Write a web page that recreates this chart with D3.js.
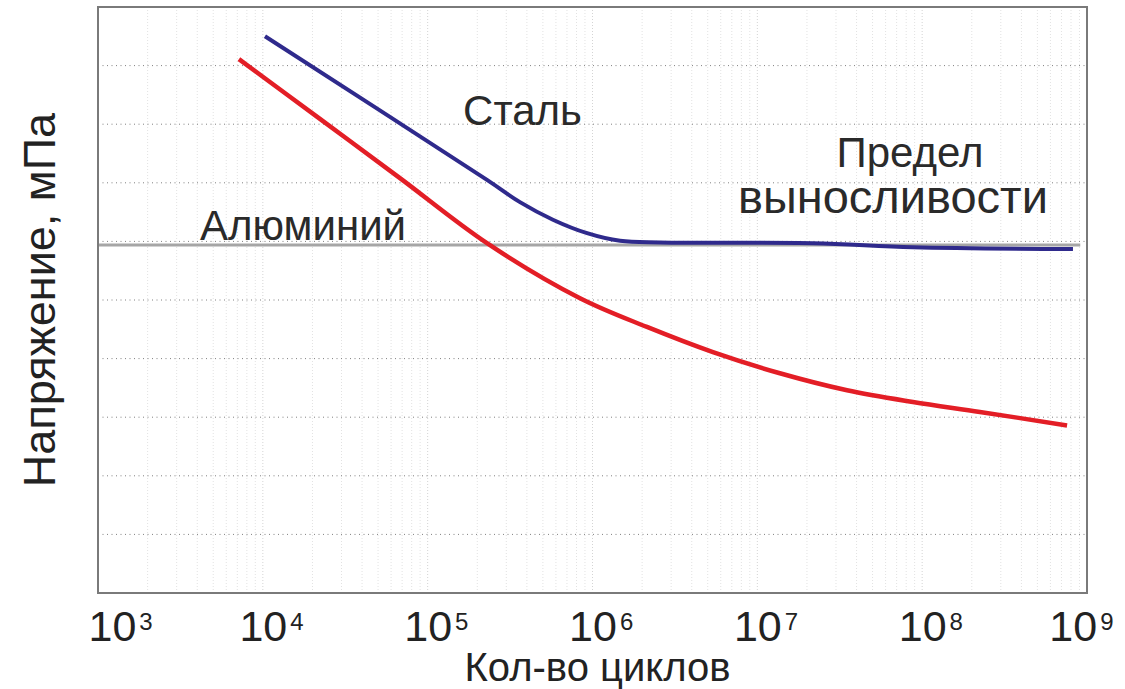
<!DOCTYPE html>
<html lang="ru">
<head>
<meta charset="utf-8">
<title>Кривые усталости</title>
<script src="https://cdn.jsdelivr.net/npm/d3@7/dist/d3.min.js"></script>
<style>
  html, body { margin: 0; padding: 0; background: #fff; }
  svg { display: block; font-family: "Liberation Sans", Arial, sans-serif; }
</style>
</head>
<body>
<div id="chart"></div>
<script>
/* =====================================================================
   S-N curves (Wöhler): steel levels off at the fatigue limit,
   aluminium keeps dropping with the number of cycles.
   ===================================================================== */
(function () {
  "use strict";

  /* ---- data (cycles, stress in grid units) ---- */
  const steelCycles = [1.03e4, 2.29e5, 3.63e5, 5.75e5, 9.27e5, 1.47e6, 2.57e6, 2.18e7, 8.79e7, 8.22e8];
  const steelStress = [9.50, 7.05, 6.67, 6.37, 6.14, 6.01, 5.98, 5.97, 5.90, 5.87];

  const aluCycles = [7.16e3, 2.22e4, 6.79e4, 2.29e5, 8.40e5, 2.14e6, 5.38e6, 1.37e7, 3.50e7, 8.79e7, 2.24e8, 7.57e8];
  const aluStress = [9.11, 8.09, 7.08, 5.97, 5.03, 4.54, 4.11, 3.75, 3.46, 3.26, 3.09, 2.86];

  const limitCycles = [1e3, 9.1e8];   // fatigue limit line
  const limitStress = 5.94;

  const xTicks = [1e3, 1e4, 1e5, 1e6, 1e7, 1e8, 1e9];
  const yGrid = [1, 2, 3, 4, 5, 6, 7, 8, 9];

  const noteText = ["Сталь", "Алюминий", "Предел", "выносливости"];
  const noteCycles = [1.64e5, 4.16e3, 8.43e7, 6.65e7];
  const noteStress = [7.99, 6.02, 7.27, 6.48];

  /* ---------- scaffold ---------- */
  const W = 1125, H = 689;
  const m = { top: 7, right: 38, bottom: 96, left: 98 };
  const iw = W - m.left - m.right, ih = H - m.top - m.bottom;

  const svg = d3.select("#chart").append("svg").attr("width", W).attr("height", H);
  const g = svg.append("g").attr("transform", `translate(${m.left},${m.top})`);

  const x = d3.scaleLog().domain([1e3, 1e9]).range([0, iw]);
  const y = d3.scaleLinear().domain([0, 10]).range([ih, 0]);

  // faint minor grid (2..9 in each decade)
  const minor = [];
  for (let e = 3; e < 9; e++) for (let k = 2; k <= 9; k++) minor.push(k * Math.pow(10, e));
  g.append("g").selectAll("line").data(minor).join("line")
    .attr("x1", (d) => x(d)).attr("x2", (d) => x(d)).attr("y1", 0).attr("y2", ih)
    .attr("stroke", "#e2e2e2").attr("stroke-width", 1).attr("stroke-dasharray", "1 2");
  g.append("g").selectAll("line").data(xTicks.slice(1, -1)).join("line")
    .attr("x1", (d) => x(d)).attr("x2", (d) => x(d)).attr("y1", 0).attr("y2", ih)
    .attr("stroke", "#d4d4d4").attr("stroke-width", 1).attr("stroke-dasharray", "1 2");

  // dotted horizontal grid
  g.append("g").selectAll("line").data(yGrid).join("line")
    .attr("x1", 0).attr("x2", iw).attr("y1", (d) => y(d)).attr("y2", (d) => y(d))
    .attr("stroke", "#808080").attr("stroke-width", 1).attr("stroke-dasharray", "1 3.5");

  // fatigue limit
  g.append("line")
    .attr("x1", x(limitCycles[0])).attr("x2", x(limitCycles[1]))
    .attr("y1", y(limitStress)).attr("y2", y(limitStress))
    .attr("stroke", "#a6a6a6").attr("stroke-width", 3);

  /* ---------- curves ---------- */
  const line = d3.line().x((d) => x(d[0])).y((d) => y(d[1])).curve(d3.curveCatmullRom.alpha(0.5));
  g.append("path").datum(aluCycles.map((c, i) => [c, aluStress[i]]))
    .attr("d", line).attr("fill", "none")
    .attr("stroke", "#e31e26").attr("stroke-width", 4.5);
  g.append("path").datum(steelCycles.map((c, i) => [c, steelStress[i]]))
    .attr("d", line).attr("fill", "none")
    .attr("stroke", "#2f2a8c").attr("stroke-width", 4);

  // frame
  g.append("rect").attr("width", iw).attr("height", ih)
    .attr("fill", "none").attr("stroke", "#7a7a7a").attr("stroke-width", 2);

  /* ---------- axis: 10^n labels ---------- */
  const FS = 43, SUP = 24;
  const labelW = FS * 1.112 + 3 + SUP * 0.556;     // "10" + gap + one digit
  const ax = g.append("g").attr("transform", `translate(0,${ih})`)
    .call(d3.axisBottom(x).tickValues(xTicks).tickSize(0).tickFormat(""));
  ax.select(".domain").remove();
  ax.selectAll(".tick").each(function (d) {
    const t = d3.select(this);
    t.selectAll("text").remove();
    // centre "10" on the tick, but keep the label inside the page edges
    const tx = x(d);
    let x0 = -FS * 0.556;
    x0 = Math.max(x0, -tx - 10);
    x0 = Math.min(x0, (W - m.left - 12) - tx - labelW);
    const lbl = t.append("text").attr("text-anchor", "start").attr("fill", "#222")
      .attr("x", x0).attr("y", 48);
    lbl.append("tspan").attr("font-size", FS).text("10");
    lbl.append("tspan").attr("font-size", SUP).attr("dx", 3).attr("dy", -11)
      .text(String(Math.round(Math.log10(d))));
  });

  svg.append("text").attr("x", m.left + iw / 2 + 5).attr("y", 681)
    .attr("text-anchor", "middle").attr("font-size", 40).attr("fill", "#222")
    .text("Кол-во циклов");
  svg.append("text").attr("transform", "translate(55,300) rotate(-90)")
    .attr("text-anchor", "middle").attr("font-size", 45).attr("fill", "#222")
    .text("Напряжение, мПа");

  /* ---------- annotations ---------- */
  g.append("g").selectAll("text").data(noteText).join("text")
    .attr("x", (d, i) => x(noteCycles[i])).attr("y", (d, i) => y(noteStress[i]))
    .attr("text-anchor", (d, i) => (i < 2 ? "start" : "middle"))
    .attr("font-size", (d) => (d === "выносливости" ? 47 : 42))
    .attr("fill", "#2a2a2a").text((d) => d);
})();
</script>
</body>
</html>
